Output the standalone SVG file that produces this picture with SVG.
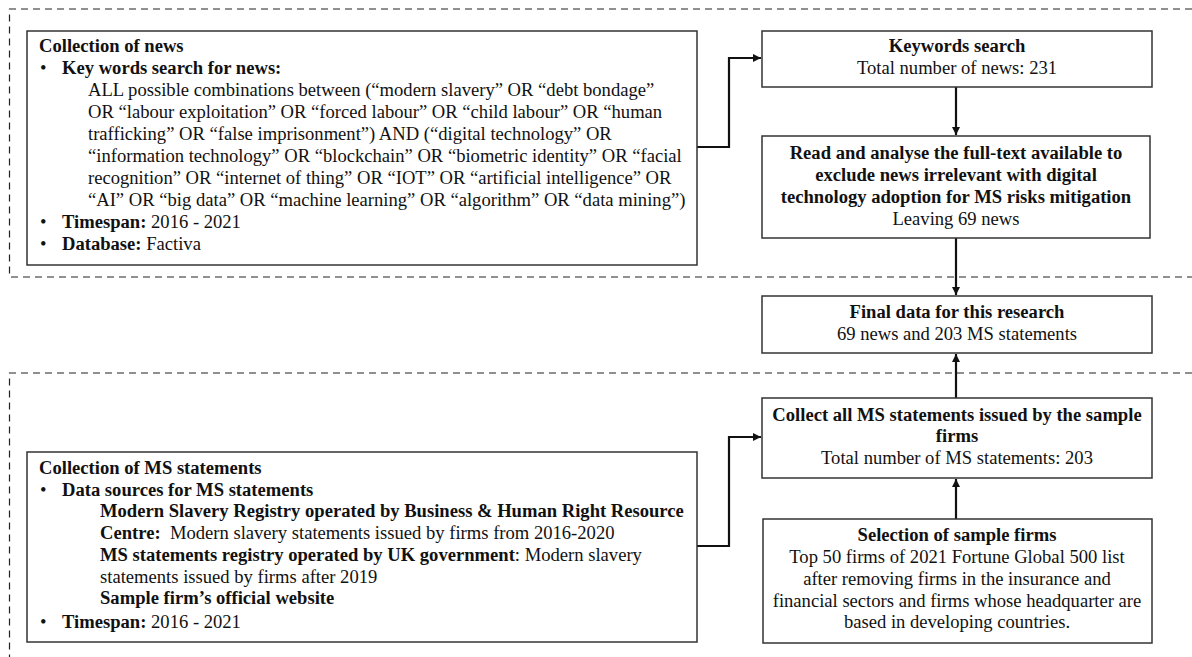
<svg xmlns="http://www.w3.org/2000/svg" width="1192" height="657" viewBox="0 0 1192 657">
<defs>
<style>
text{font-family:"Liberation Serif","Times New Roman",serif;font-size:18.6px;fill:#111;}
.b{font-weight:bold;}
.c{text-anchor:middle;}
.box{fill:#fff;stroke:#333;stroke-width:1.5;}
.dash{fill:none;stroke:#222;stroke-width:1.2;stroke-dasharray:7 5;}
.con{fill:none;stroke:#111;stroke-width:2.2;}
</style>
<marker id="ah" viewBox="0 0 10 10" refX="10" refY="5" markerWidth="9" markerHeight="8" markerUnits="userSpaceOnUse" orient="auto">
<path d="M0,0 L10,5 L0,10 z" fill="#111"/>
</marker>
</defs>
<rect width="1192" height="657" fill="#fff"/>
<g id="regions">
<path class="dash" d="M1192,9 H9.5 V277 H1192"/>
<path class="dash" d="M1192,373 H9.5 V657"/>
</g>
<g id="connectors">
<path class="con" d="M697,147 H729 V58 H761" marker-end="url(#ah)"/>
<path class="con" d="M697,546 H729 V437 H761" marker-end="url(#ah)"/>
<path class="con" d="M956,87 V135" marker-end="url(#ah)"/>
<path class="con" d="M956,238 V295" marker-end="url(#ah)"/>
<path class="con" d="M956,398 V354" marker-end="url(#ah)"/>
<path class="con" d="M956,519 V479" marker-end="url(#ah)"/>
</g>
<g id="news">
<rect class="box" x="27" y="31" width="670" height="234"/>
<text x="39" y="52" class="b">Collection of news</text>
<text x="40" y="74">•</text><text x="62" y="74" class="b">Key words search for news:</text>
<text x="88" y="96">ALL possible combinations between (“modern slavery” OR “debt bondage”</text>
<text x="88" y="118">OR “labour exploitation” OR “forced labour” OR “child labour” OR “human</text>
<text x="88" y="140">trafficking” OR “false imprisonment”) AND (“digital technology” OR</text>
<text x="88" y="162">“information technology” OR “blockchain” OR “biometric identity” OR “facial</text>
<text x="88" y="184">recognition” OR “internet of thing” OR “IOT” OR “artificial intelligence” OR</text>
<text x="88" y="206">“AI” OR “big data” OR “machine learning” OR “algorithm” OR “data mining”)</text>
<text x="40" y="228">•</text><text x="62" y="228"><tspan class="b">Timespan:</tspan> 2016 - 2021</text>
<text x="40" y="250">•</text><text x="62" y="250"><tspan class="b">Database:</tspan> Factiva</text>
</g>
<g id="keywords">
<rect class="box" x="762" y="31" width="390" height="56"/>
<text x="957" y="52" class="b c">Keywords search</text>
<text x="957" y="74" class="c">Total number of news: 231</text>
</g>
<g id="read">
<rect class="box" x="762" y="136" width="388" height="102"/>
<text x="956" y="159" class="b c">Read and analyse the full-text available to</text>
<text x="956" y="181" class="b c">exclude news irrelevant with digital</text>
<text x="956" y="203" class="b c">technology adoption for MS risks mitigation</text>
<text x="956" y="225" class="c">Leaving 69 news</text>
</g>
<g id="final">
<rect class="box" x="762" y="296" width="390" height="57"/>
<text x="957" y="318" class="b c">Final data for this research</text>
<text x="957" y="340" class="c">69 news and 203 MS statements</text>
</g>
<g id="collect">
<rect class="box" x="762" y="398" width="390" height="80"/>
<text x="957" y="421" class="b c">Collect all MS statements issued by the sample</text>
<text x="957" y="442" class="b c">firms</text>
<text x="957" y="464" class="c">Total number of MS statements: 203</text>
</g>
<g id="selection">
<rect class="box" x="763" y="519" width="389" height="124"/>
<text x="957" y="541" class="b c">Selection of sample firms</text>
<text x="957" y="563" class="c">Top 50 firms of 2021 Fortune Global 500 list</text>
<text x="957" y="585" class="c">after removing firms in the insurance and</text>
<text x="957" y="607" class="c">financial sectors and firms whose headquarter are</text>
<text x="957" y="628" class="c">based in developing countries.</text>
</g>
<g id="ms">
<rect class="box" x="27" y="452" width="670" height="190"/>
<text x="39" y="474" class="b">Collection of MS statements</text>
<text x="40" y="496">•</text><text x="62" y="496" class="b">Data sources for MS statements</text>
<text x="100" y="517" class="b">Modern Slavery Registry operated by Business &amp; Human Right Resource</text>
<text x="100" y="539" xml:space="preserve"><tspan class="b">Centre:</tspan>  Modern slavery statements issued by firms from 2016-2020</text>
<text x="100" y="561"><tspan class="b">MS statements registry operated by UK government</tspan>: Modern slavery</text>
<text x="100" y="583">statements issued by firms after 2019</text>
<text x="100" y="604" class="b">Sample firm’s official website</text>
<text x="40" y="628">•</text><text x="62" y="628"><tspan class="b">Timespan:</tspan> 2016 - 2021</text>
</g>
</svg>
